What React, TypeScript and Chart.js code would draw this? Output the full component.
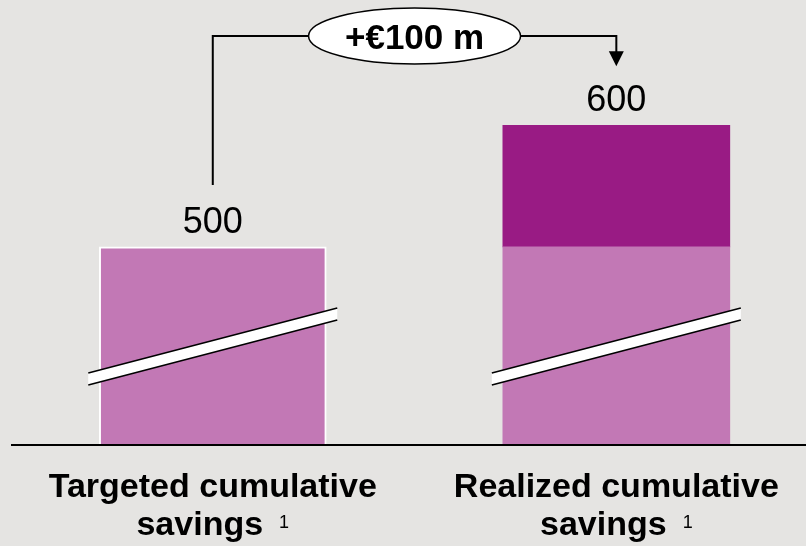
import React, { useEffect, useRef } from 'react';
import { Chart, registerables } from 'chart.js';

Chart.register(...registerables);

// ---- data ----
const categoryLine1 = ['Targeted cumulative', 'Realized cumulative'];
const categoryLine2 = ['savings', 'savings'];
const footnoteMarks = ['1', '1'];
const baseSavings = [500, 500];
const additionalSavings: (number | null)[] = [null, 100];
const totalLabels = ['500', '600'];
const deltaLabel = '+€100 m';

// broken axis range
const yMin = 338;
const yMax = 703;

const BG = '#e5e4e2';
const LIGHT = '#c278b5';
const DARK = '#991b84';
const FONT = '"Liberation Sans", Arial, Helvetica, sans-serif';

const decorPlugin = {
  id: 'decor',
  beforeDraw(chart: any) {
    const ctx = chart.ctx;
    ctx.save();
    ctx.fillStyle = BG;
    ctx.fillRect(0, 0, chart.width, chart.height);
    ctx.restore();
  },
  afterDatasetsDraw(chart: any) {
    const ctx = chart.ctx;
    const yScale = chart.scales.y;
    const baseY = yScale.getPixelForValue(yMin);
    const bars = chart.getDatasetMeta(0).data;
    ctx.save();
    // axis break bands
    bars.forEach((bar: any) => {
      const cx = bar.x;
      const xl = cx - 124.5;
      const xr = cx + 124.5;
      const yl = baseY - 65;
      const yr = baseY - 130;
      const h = 6;
      ctx.beginPath();
      ctx.moveTo(xl, yl - h);
      ctx.lineTo(xr, yr - h);
      ctx.lineTo(xr, yr + h);
      ctx.lineTo(xl, yl + h);
      ctx.closePath();
      ctx.fillStyle = '#ffffff';
      ctx.fill();
      ctx.lineWidth = 1.6;
      ctx.strokeStyle = '#000';
      ctx.beginPath();
      ctx.moveTo(xl, yl - h);
      ctx.lineTo(xr, yr - h);
      ctx.moveTo(xl, yl + h);
      ctx.lineTo(xr, yr + h);
      ctx.stroke();
    });
    // baseline
    ctx.strokeStyle = '#000';
    ctx.lineWidth = 2;
    ctx.beginPath();
    ctx.moveTo(chart.chartArea.left, baseY + 1);
    ctx.lineTo(chart.chartArea.right, baseY + 1);
    ctx.stroke();
    ctx.restore();
  },
  afterDraw(chart: any) {
    const ctx = chart.ctx;
    const yScale = chart.scales.y;
    const xScale = chart.scales.x;
    ctx.save();
    ctx.fillStyle = '#000';
    ctx.textAlign = 'center';
    ctx.textBaseline = 'alphabetic';

    const tops = baseSavings.map((v, i) =>
      yScale.getPixelForValue(v + (additionalSavings[i] || 0))
    );
    const xs = baseSavings.map((_, i) => xScale.getPixelForValue(i));

    // total labels
    ctx.font = `36px ${FONT}`;
    totalLabels.forEach((t, i) => {
      ctx.fillText(t, xs[i], tops[i] - 14);
    });

    // bracket
    const lineY = 36;
    ctx.strokeStyle = '#000';
    ctx.lineWidth = 2;
    ctx.beginPath();
    ctx.moveTo(xs[0], tops[0] - 62);
    ctx.lineTo(xs[0], lineY);
    ctx.lineTo(xs[1], lineY);
    ctx.lineTo(xs[1], tops[1] - 72);
    ctx.stroke();
    // arrow head
    const tipY = tops[1] - 59;
    ctx.beginPath();
    ctx.moveTo(xs[1] - 7.5, tipY - 15);
    ctx.lineTo(xs[1] + 7.5, tipY - 15);
    ctx.lineTo(xs[1], tipY);
    ctx.closePath();
    ctx.fill();

    // ellipse with delta label
    const ecx = (xs[0] + xs[1]) / 2;
    ctx.beginPath();
    ctx.ellipse(ecx, lineY, 106, 28, 0, 0, Math.PI * 2);
    ctx.fillStyle = '#ffffff';
    ctx.fill();
    ctx.lineWidth = 1.5;
    ctx.stroke();
    ctx.fillStyle = '#000';
    ctx.font = `bold 35px ${FONT}`;
    ctx.fillText(deltaLabel, ecx, 49);

    // category labels
    categoryLine1.forEach((t, i) => {
      const cx = xs[i];
      ctx.textAlign = 'center';
      ctx.font = `bold 34px ${FONT}`;
      ctx.fillText(t, cx, 497);
      const w2 = ctx.measureText(categoryLine2[i]).width;
      ctx.font = `18px ${FONT}`;
      const wf = ctx.measureText(footnoteMarks[i]).width;
      const gap = 16;
      const total = w2 + gap + wf;
      const start = cx - total / 2;
      ctx.textAlign = 'left';
      ctx.font = `bold 34px ${FONT}`;
      ctx.fillText(categoryLine2[i], start, 535);
      ctx.font = `18px ${FONT}`;
      ctx.fillText(footnoteMarks[i], start + w2 + gap, 528);
    });
    ctx.restore();
  },
};

export default function App() {
  const ref = useRef<HTMLCanvasElement>(null);

  useEffect(() => {
    document.body.style.margin = '0';
    if (!ref.current) return;
    const chart = new Chart(ref.current, {
      type: 'bar',
      data: {
        datasets: [
          {
            label: 'Base',
            data: baseSavings.map((y, i) => ({ x: i, y })),
            backgroundColor: LIGHT,
            borderColor: '#ffffff',
            borderWidth: [2, 0] as any,
            borderSkipped: 'bottom',
            barThickness: 227,
          },
          {
            label: 'Additional',
            data: additionalSavings.map((y, i) => ({ x: i, y })),
            backgroundColor: DARK,
            borderWidth: 0,
            barThickness: 227,
          },
        ],
      },
      options: {
        animation: false,
        responsive: false,
        maintainAspectRatio: false,
        layout: { padding: { left: 11, right: 0, top: 0, bottom: 102 } },
        plugins: { legend: { display: false }, tooltip: { enabled: false } },
        scales: {
          x: { type: 'linear', min: -0.5, max: 1.47, offset: false, stacked: true, display: false },
          y: { min: yMin, max: yMax, stacked: true, display: false },
        },
      },
      plugins: [decorPlugin],
    } as any);
    return () => chart.destroy();
  }, []);

  return (
    <div style={{ width: 806, height: 546, background: BG }}>
      <canvas ref={ref} width={806} height={546} style={{ display: 'block' }} />
    </div>
  );
}
